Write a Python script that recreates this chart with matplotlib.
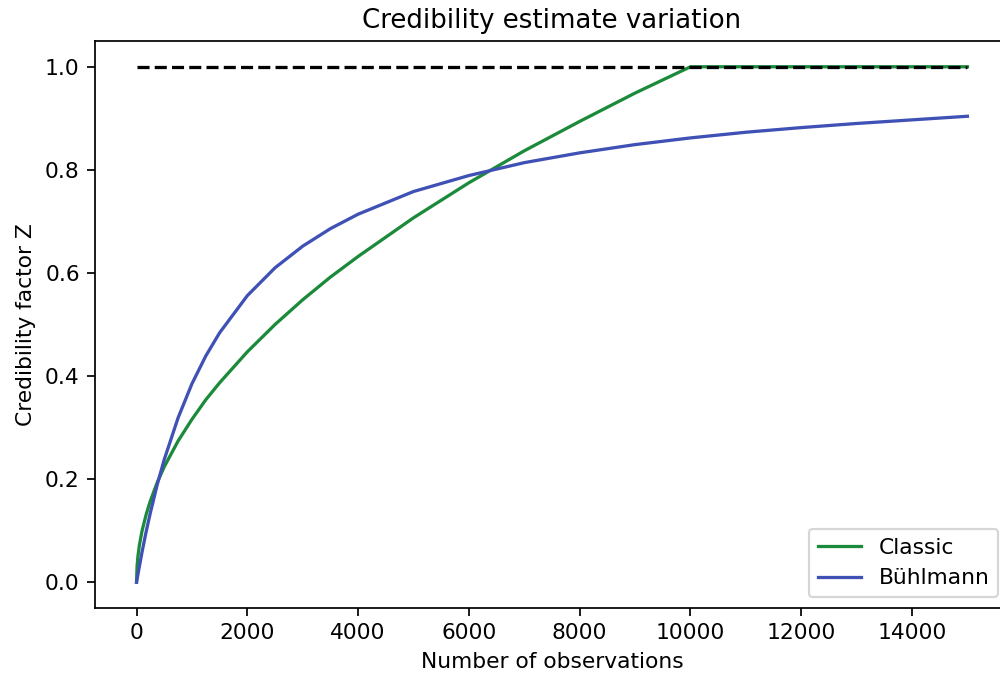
import matplotlib
matplotlib.use("Agg")
import matplotlib.pyplot as plt

# Number of observations at which the credibility factors were evaluated
n_classic = [0, 10, 25, 50, 100, 175, 250, 375, 500, 750, 1000, 1250, 1500,
             2000, 2500, 3000, 3500, 4000, 5000, 6000, 7000, 8000, 9000,
             10000, 12000, 15000]
z_classic = [0.0, 0.032, 0.05, 0.071, 0.10, 0.132, 0.158, 0.194, 0.224,
             0.274, 0.316, 0.354, 0.387, 0.447, 0.50, 0.548, 0.592, 0.632,
             0.707, 0.775, 0.837, 0.894, 0.949, 1.0, 1.0, 1.0]

n_buhl = [0, 50, 100, 175, 250, 375, 500, 750, 1000, 1250, 1500, 2000,
          2500, 3000, 3500, 4000, 5000, 6000, 7000, 8000, 9000, 10000,
          11000, 12000, 13000, 14000, 15000]
z_buhl = [0.0, 0.030, 0.059, 0.099, 0.135, 0.190, 0.238, 0.319, 0.385,
          0.439, 0.484, 0.556, 0.610, 0.652, 0.686, 0.714, 0.758, 0.789,
          0.814, 0.833, 0.849, 0.862, 0.873, 0.882, 0.890, 0.897, 0.904]

full_x = [0, 15000]
full_z = [1.0, 1.0]

fig = plt.figure(figsize=(6.4, 4.3136), dpi=156.25)
ax = fig.add_axes([0.095, 66 / 674, 0.914, 567 / 674])

ax.plot(n_classic, z_classic, color="#1b8a3a", label="Classic")
ax.plot(n_buhl, z_buhl, color="#3f51b5", label="Bühlmann")
ax.plot(full_x, full_z, color="black", linestyle="--")

ax.set_xlabel("Number of observations")
ax.set_ylabel("Credibility factor Z")
ax.set_title("Credibility estimate variation")
ax.legend(loc="lower right")

fig.savefig("out.png", dpi=156.25)
